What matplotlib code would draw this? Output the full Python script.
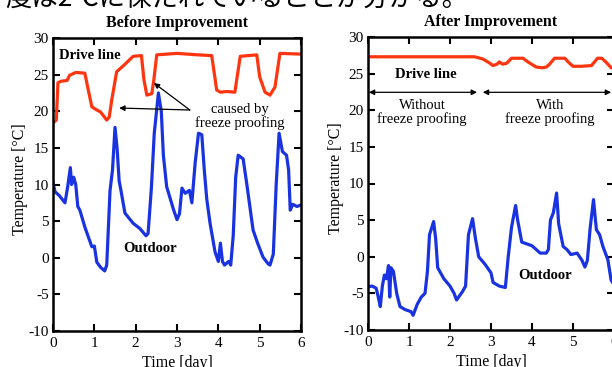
import matplotlib
matplotlib.use("Agg")
import matplotlib.pyplot as plt

# -------------------------------------------------------
# Data
# -------------------------------------------------------

drive_before_t = [0, 0.08, 0.12, 0.2, 0.34, 0.4, 0.55, 0.77, 0.85, 0.94, 1.05, 1.15,
                  1.3, 1.36, 1.42, 1.54, 1.7, 1.94, 2.14, 2.2, 2.27, 2.39, 2.44, 2.51,
                  3.0, 3.5, 3.84, 3.96, 4.05, 4.2, 4.4, 4.45, 4.53, 4.93, 5.0, 5.13,
                  5.25, 5.37, 5.49, 6.0]
drive_before = [18.4, 18.8, 23.9, 24.1, 24.2, 24.9, 25.3, 25.2, 23.0, 20.6, 20.2, 19.9,
                18.8, 19.2, 21.5, 25.4, 26.2, 27.5, 27.6, 24.3, 22.2, 22.4, 24.3, 27.7,
                27.9, 27.7, 27.6, 22.9, 22.6, 22.7, 22.6, 24.5, 27.5, 27.7, 24.7, 22.6,
                22.2, 23.3, 27.9, 27.8]

outdoor_before_t = [0, 0.05, 0.15, 0.29, 0.35, 0.42, 0.45, 0.5, 0.55, 0.6, 0.65, 0.77,
                    0.94, 1.0, 1.06, 1.15, 1.25, 1.3, 1.38, 1.44, 1.5, 1.55, 1.6, 1.65,
                    1.74, 1.94, 2.1, 2.25, 2.3, 2.38, 2.45, 2.55, 2.62, 2.67, 2.75, 2.92,
                    3.0, 3.06, 3.12, 3.2, 3.3, 3.36, 3.44, 3.52, 3.6, 3.66, 3.72, 3.8,
                    3.92, 4.0, 4.05, 4.1, 4.15, 4.25, 4.3, 4.36, 4.42, 4.48, 4.6, 4.69,
                    4.84, 4.95, 5.08, 5.2, 5.25, 5.33, 5.4, 5.47, 5.55, 5.65, 5.7, 5.74,
                    5.8, 5.9, 6.0]
outdoor_before = [10.2, 9.0, 8.5, 7.5, 9.5, 12.3, 10.0, 11.0, 10.0, 7.0, 6.5, 4.2,
                  1.5, 1.6, -0.6, -1.3, -1.8, -1.0, 9.2, 12.0, 17.8, 15.0, 10.5, 9.0,
                  6.1, 4.7, 4.0, 3.0, 3.3, 9.5, 17.0, 22.5, 20.0, 14.0, 9.7, 6.5,
                  5.2, 6.0, 9.5, 8.8, 9.2, 7.5, 13.0, 17.0, 16.8, 12.0, 8.0, 4.7,
                  0.8, -0.5, 2.0, -0.5, -1.0, -0.5, -1.0, 3.0, 11.0, 14.0, 13.5, 10.0,
                  3.8, 2.0, 0.1, -0.8, -1.0, 0.5, 10.0, 17.0, 14.5, 14.0, 12.0, 6.5,
                  7.3, 7.0, 7.2]

drive_after_t = [0, 2.6, 2.8, 2.95, 3.05, 3.15, 3.2, 3.28, 3.38, 3.5, 3.78, 3.9, 4.1,
                 4.25, 4.35, 4.43, 4.55, 4.8, 4.9, 5.0, 5.2, 5.45, 5.6, 5.7, 5.8, 5.93,
                 6.0]
drive_after = [27.3, 27.3, 27.0, 26.5, 26.1, 26.3, 26.6, 26.3, 26.4, 27.1, 27.1, 26.6,
               25.9, 25.8, 25.9, 26.3, 27.1, 27.1, 26.5, 26.0, 26.0, 26.1, 27.1, 27.1,
               26.6, 25.8, 25.7]

outdoor_after_t = [0, 0.1, 0.2, 0.25, 0.3, 0.35, 0.4, 0.45, 0.5, 0.53, 0.56, 0.62, 0.7,
                   0.78, 0.9, 1.0, 1.05, 1.1, 1.2, 1.3, 1.39, 1.45, 1.5, 1.6, 1.65, 1.7,
                   1.85, 2.0, 2.1, 2.16, 2.3, 2.38, 2.45, 2.55, 2.62, 2.7, 2.85, 3.0,
                   3.05, 3.2, 3.35, 3.42, 3.5, 3.6, 3.65, 3.75, 4.0, 4.1, 4.2, 4.35, 4.4,
                   4.45, 4.52, 4.6, 4.65, 4.76, 4.85, 4.95, 5.1, 5.22, 5.29, 5.35, 5.42,
                   5.5, 5.57, 5.65, 5.73, 5.85, 5.93, 6.0]
outdoor_after = [-4.1, -4.0, -4.3, -5.5, -6.8, -4.0, -2.5, -3.0, -1.2, -5.5, -1.5, -2.0,
                 -5.0, -6.8, -7.2, -7.4, -7.5, -8.0, -6.5, -5.5, -5.0, -2.0, 3.0, 4.8,
                 2.5, -1.5, -3.0, -4.0, -5.0, -5.9, -4.8, -4.0, 3.0, 5.2, 2.5, 0.0,
                 -1.0, -2.2, -3.5, -4.0, -4.2, 0.0, 4.0, 7.0, 5.0, 2.0, 1.5, 1.0, 0.5,
                 0.5, 1.0, 5.0, 6.0, 8.7, 4.5, 1.4, 1.0, 0.3, 0.5, -0.5, -1.4, -0.5,
                 4.0, 7.8, 3.7, 3.0, 1.4, -0.4, -3.2, -3.8]

x_ticks = [0, 1, 2, 3, 4, 5, 6]
y_ticks = [-10, -5, 0, 5, 10, 15, 20, 25, 30]

# -------------------------------------------------------
# Style
# -------------------------------------------------------

plt.rcParams["font.family"] = ["Liberation Serif", "DejaVu Serif"]
plt.rcParams["axes.unicode_minus"] = False

RED = "#ff3510"
BLUE = "#1a33e0"

W, H = 612, 367
fig = plt.figure(figsize=(W / 100, H / 100), dpi=100)

ax1 = fig.add_axes([53 / W, (H - 331) / H, 248 / W, 293 / H])
ax2 = fig.add_axes([368 / W, (H - 330) / H, 246 / W, 293 / H])


def style_axes(ax, title):
    ax.set_xlim(0, 6)
    ax.set_ylim(-10, 30)
    ax.set_xticks(x_ticks)
    ax.set_yticks(y_ticks)
    ax.tick_params(direction="in", top=True, right=True, length=5, width=1.5,
                   labelsize=11, pad=3)
    ax.tick_params(axis="x", pad=4)
    for s in ax.spines.values():
        s.set_linewidth(1.8)
    ax.set_title(title, fontsize=11.5, fontweight="bold", pad=8)
    ax.set_xlabel("Time [day]", fontsize=11.5, labelpad=4)
    ax.set_ylabel("Temperature [°C]", fontsize=11.5)


# -------------------------------------------------------
# Before Improvement
# -------------------------------------------------------

ax1.plot(drive_before_t, drive_before, color=RED, lw=2.3)
ax1.plot(outdoor_before_t, outdoor_before, color=BLUE, lw=2.3)
style_axes(ax1, "Before Improvement")
ax1.yaxis.set_label_coords(-0.10, 0.52)

ax1.text(0.15, 27.1, "Drive line", fontsize=10.5, fontweight="bold")
ax1.text(2.36, 0.8, "Outdoor", fontsize=10.5, fontweight="bold", ha="center")
ax1.text(4.52, 19.3, "caused by\nfreeze proofing", fontsize=10.5, ha="center",
         va="center", linespacing=1.0)
for head in [(1.60, 20.44), (2.44, 23.86)]:
    ax1.annotate("", xy=head, xytext=(3.31, 20.17),
                 arrowprops=dict(arrowstyle="-|>", color="black", lw=0.9,
                                 mutation_scale=8, shrinkA=0, shrinkB=0))

# -------------------------------------------------------
# After Improvement
# -------------------------------------------------------

ax2.plot(drive_after_t, drive_after, color=RED, lw=2.3)
ax2.plot(outdoor_after_t, outdoor_after, color=BLUE, lw=2.3)
style_axes(ax2, "After Improvement")
ax2.yaxis.set_label_coords(-0.097, 0.52)

ax2.text(1.41, 24.4, "Drive line", fontsize=10.5, fontweight="bold", ha="center")
ax2.text(4.32, -3.0, "Outdoor", fontsize=10.5, fontweight="bold", ha="center")
ax2.text(1.32, 19.7, "Without\nfreeze proofing", fontsize=10.5, ha="center",
         va="center", linespacing=1.0)
ax2.text(4.44, 19.7, "With\nfreeze proofing", fontsize=10.5, ha="center",
         va="center", linespacing=1.0)
for a, b in [(0.02, 2.66), (2.8, 5.93)]:
    ax2.annotate("", xy=(b, 22.45), xytext=(a, 22.45),
                 arrowprops=dict(arrowstyle="<|-|>", color="black", lw=0.9,
                                 mutation_scale=8, shrinkA=0, shrinkB=0))

# cut-off line of Japanese body text above the figure
fig.text(5 / W, 1 - 6 / H, "度は2℃に保たれていることが分かる。", fontsize=19,
         family=["Noto Sans CJK JP", "DejaVu Sans"], va="baseline", ha="left")

fig.savefig("out.png", dpi=100)
